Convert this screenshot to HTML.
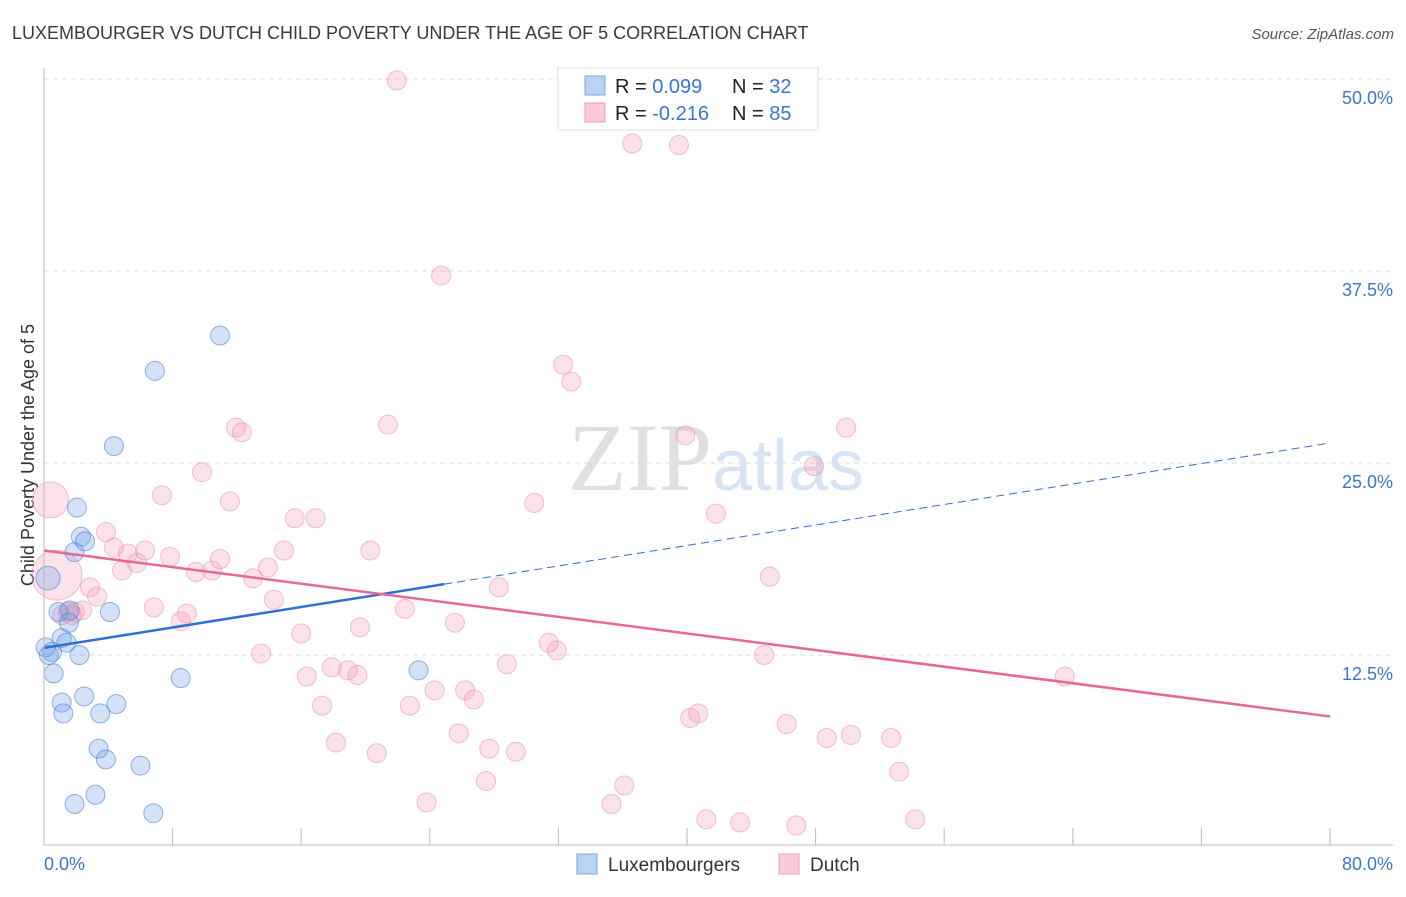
<!DOCTYPE html>
<html><head><meta charset="utf-8"><style>
body{margin:0;background:#fff;font-family:"Liberation Sans",sans-serif}
svg text{font-family:"Liberation Sans",sans-serif}
</style></head><body>
<svg id="chart" width="1406" height="892" xmlns="http://www.w3.org/2000/svg">
<text x="12" y="39" font-size="18" fill="#3a3a3a">LUXEMBOURGER VS DUTCH CHILD POVERTY UNDER THE AGE OF 5 CORRELATION CHART</text>
<text x="1394" y="39" font-size="15" fill="#555" font-style="italic" text-anchor="end">Source: ZipAtlas.com</text>
<text x="716" y="490" font-size="96" fill="#e6e6e6" text-anchor="middle" font-family="Liberation Serif"><tspan fill="#e0e0e0" font-family="Liberation Serif">ZIP</tspan><tspan fill="#d6e4f5" font-family="Liberation Sans" font-size="72">atlas</tspan></text>
<text transform="translate(34,455) rotate(-90)" font-size="18" fill="#333" text-anchor="middle">Child Poverty Under the Age of 5</text>
<g id="grid"></g><g id="marks"></g><g id="lines"></g>
<line x1="44" y1="68" x2="44" y2="845" stroke="#bbb"/>
<line x1="44" y1="845" x2="1393" y2="845" stroke="#bbb"/>
<text x="44" y="870" font-size="18" fill="#3a76d0">0.0%</text>
<text x="1393" y="870" font-size="18" fill="#3a76d0" text-anchor="end">80.0%</text>
<g>
<rect x="558" y="68" width="260" height="62" fill="#fff" stroke="#ddd"/>
<rect x="585" y="76" width="20" height="19" fill="#b9d3f5" stroke="#7fa9e6"/>
<rect x="585" y="103" width="20" height="19" fill="#fbc9d8" stroke="#f09ab5"/>
<text x="615" y="93" font-size="20" fill="#222">R = <tspan fill="#3a76d0">0.099</tspan><tspan x="732">N = </tspan><tspan fill="#3a76d0">32</tspan></text>
<text x="615" y="120" font-size="20" fill="#222">R = <tspan fill="#3a76d0">-0.216</tspan><tspan x="732">N = </tspan><tspan fill="#3a76d0">85</tspan></text>
</g>
<g>
<rect x="577" y="854" width="20" height="20" fill="#b9d3f5" stroke="#7fa9e6"/>
<text x="608" y="871" font-size="19" fill="#333">Luxembourgers</text>
<rect x="779" y="854" width="20" height="20" fill="#fbc9d8" stroke="#f09ab5"/>
<text x="810" y="871" font-size="19" fill="#333">Dutch</text>
</g>
</svg>
<script>
const yTicks=[12.5,25,37.5,50];
const yTickLabels=["12.5%","25.0%","37.5%","50.0%"];
const xTicks=[0,8,16,24,32,40,48,56,64,72,80];
const luxX=[0.25,0.5,0.3,0.6,0.9,1.1,1.4,1.6,1.55,1.9,2.05,2.3,2.55,2.2,4.1,1.1,1.2,2.5,3.5,4.5,3.4,3.85,6.0,3.2,1.9,6.8,4.35,6.9,10.95,8.5,23.3,0.1];
const luxY=[17.5,12.7,12.5,11.3,15.3,13.6,13.3,15.4,14.6,19.2,22.1,20.2,19.9,12.5,15.3,9.4,8.7,9.8,8.7,9.3,6.4,5.7,5.3,3.4,2.8,2.2,26.1,31.0,33.3,11.0,11.5,13.0];
const luxR=[12,9.5,9.5,9.5,9.5,9.5,9.5,9.5,9.5,9.5,9.5,9.5,9.5,9.5,9.5,9.5,9.5,9.5,9.5,9.5,9.5,9.5,9.5,9.5,9.5,9.5,9.5,9.5,9.5,9.5,9.5,9.5];
const dutX=[0.4,0.8,1.12,1.49,1.93,2.36,1.74,3.86,2.86,3.3,4.35,4.85,5.22,5.78,6.28,7.34,7.84,6.84,8.52,8.89,9.45,10.45,10.95,9.83,11.57,11.94,12.31,13.0,13.5,13.93,14.3,14.93,15.6,16.9,16.0,16.35,17.3,17.9,18.16,18.9,19.5,19.65,20.3,20.7,21.4,22.45,22.76,23.8,24.3,24.7,25.56,25.8,26.2,26.74,27.5,27.7,28.3,28.8,29.35,30.5,31.4,31.9,32.3,32.8,35.3,36.1,36.6,39.5,39.9,40.2,40.7,41.2,41.8,43.3,45.15,44.8,46.2,46.8,47.9,48.7,49.9,50.2,52.7,53.2,54.2,63.5,21.95];
const dutY=[22.6,17.7,15.1,15.3,15.3,15.4,15.1,20.5,16.9,16.3,19.5,18.0,19.1,18.5,19.3,22.9,18.9,15.6,14.7,15.2,17.9,18.0,18.75,24.4,22.5,27.3,27.0,17.5,12.6,18.2,16.1,19.3,21.4,21.4,13.9,11.1,9.2,11.7,6.8,11.5,11.2,14.3,19.3,6.1,27.5,15.5,9.2,2.9,10.2,37.2,14.6,7.4,10.2,9.6,4.3,6.4,16.9,11.9,6.2,22.4,13.3,12.8,31.4,30.3,2.8,4.0,45.8,45.7,26.8,8.4,8.7,1.8,21.7,1.6,17.6,12.5,8.0,1.4,24.8,7.1,27.3,7.3,7.1,4.9,1.8,11.1,49.9];
const luxTrend=[12.96,26.3];
const luxSolidEnd=24.9;
const dutTrend=[19.3,8.5];
const sx=v=>44+v*(1286/80);
const sy=v=>847-v*15.36;
const NS="http://www.w3.org/2000/svg";
function mk(parent,tag,attrs){const e=document.createElementNS(NS,tag);for(const k in attrs)e.setAttribute(k,attrs[k]);document.getElementById(parent).appendChild(e);return e;}
yTicks.forEach((t,i)=>{
  const l=mk('grid','line',{x1:44,x2:1393,y1:sy(t),y2:sy(t),stroke:'#ddd','stroke-dasharray':'5,4'});
  
  
  const tx=mk('grid','text',{x:1393,y:sy(t)+25,'font-size':18,fill:'#3a76d0','text-anchor':'end'});
  tx.textContent=yTickLabels[i];
  
  
});
xTicks.forEach(t=>{
  const l=mk('grid','line',{x1:sx(t),x2:sx(t),y1:828,y2:845,stroke:'#bbb'});
  
  
});
dutX.forEach((x,i)=>{
  const r=i==0?18:(i==1?25:9.5);
  const c=mk('marks','circle',{cx:sx(x),cy:sy(dutY[i]),r:r,fill:'rgba(244,160,188,0.3)',stroke:'rgba(236,140,170,0.55)','stroke-width':1});
  
  
});
luxX.forEach((x,i)=>{
  const c=mk('marks','circle',{cx:sx(x),cy:sy(luxY[i]),r:luxR[i],fill:'rgba(110,160,230,0.3)',stroke:'rgba(60,120,210,0.55)','stroke-width':1});
  
  
});
const lv=x=>luxTrend[0]+(luxTrend[1]-luxTrend[0])*x/80;
let l1=mk('lines','line',{x1:sx(0),y1:sy(lv(0)),x2:sx(luxSolidEnd),y2:sy(lv(luxSolidEnd)),stroke:'#2f6fd6','stroke-width':2.5});


let l2=mk('lines','line',{x1:sx(luxSolidEnd),y1:sy(lv(luxSolidEnd)),x2:sx(80),y2:sy(lv(80)),stroke:'#2f6fd6','stroke-width':1,'stroke-dasharray':'8,5'});


let l3=mk('lines','line',{x1:sx(0),y1:sy(dutTrend[0]),x2:sx(80),y2:sy(dutTrend[1]),stroke:'#e8679a','stroke-width':2.5});


</script>
</body></html>
